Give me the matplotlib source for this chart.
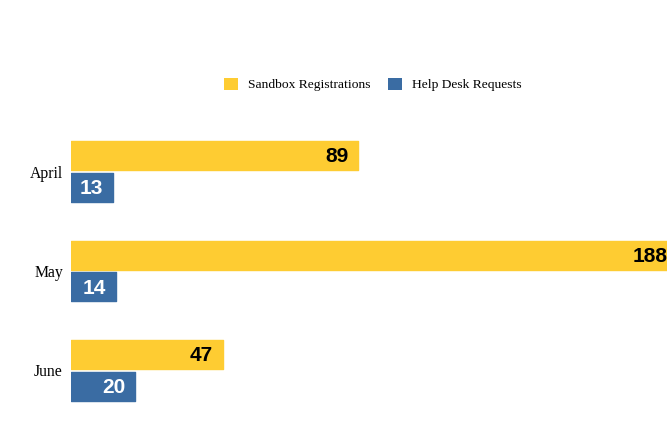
import matplotlib
matplotlib.use("Agg")
import matplotlib.pyplot as plt
import numpy as np
from matplotlib.patches import Patch

# monthly counts
months = ["April", "May", "June"]
sandbox = [89, 188, 47]
helpdesk = [13, 14, 20]
series_names = ["Sandbox Registrations", "Help Desk Requests"]

yellow = "#FECC32"
blue = "#3A6CA3"

fig = plt.figure(figsize=(6.67, 4.26), dpi=100)
ax = fig.add_axes([0.1064, 0.0135, 0.8936, 0.7007])

y = np.arange(len(months))
bar_h = 0.29
off = 0.16

bars1 = ax.barh(y - off, sandbox, height=bar_h, color=yellow,
                edgecolor=yellow, linewidth=1, joinstyle="round")
bars2 = ax.barh(y + off, helpdesk, height=bar_h, color=blue,
                edgecolor=blue, linewidth=1, joinstyle="round")

# value labels sit inside the bar end
for bars, vals, tc in [(bars1, sandbox, "black"), (bars2, helpdesk, "white")]:
    for b, v in zip(bars, vals):
        ax.annotate(str(v), xy=(v, b.get_y() + b.get_height() / 2),
                    xytext=(-7, -1), textcoords="offset points",
                    ha="right", va="center", color=tc,
                    fontsize=15, fontweight="bold", family="Liberation Sans",
                    annotation_clip=False)

# the plot area runs past the right edge, so the May bar is cut off
ax.set_xlim(0, 184.8)
ax.set_ylim(len(months) - 0.5, -0.5)
ax.set_yticks(y)
ax.set_yticklabels(months, family="Liberation Serif", fontsize=11.3)
ax.tick_params(axis="y", length=0, pad=5.8)
ax.set_xticks([])
for s in ax.spines.values():
    s.set_visible(False)

handles = [Patch(facecolor=yellow, edgecolor="none"),
           Patch(facecolor=blue, edgecolor="none")]
fig.legend(handles, series_names, loc="center", bbox_to_anchor=(0.559, 0.8015),
           ncol=2, frameon=False, prop={"family": "Liberation Serif", "size": 9.7},
           handlelength=1.0, handleheight=1.0, handletextpad=0.75,
           columnspacing=1.3)

fig.savefig("out.png", dpi=100)
